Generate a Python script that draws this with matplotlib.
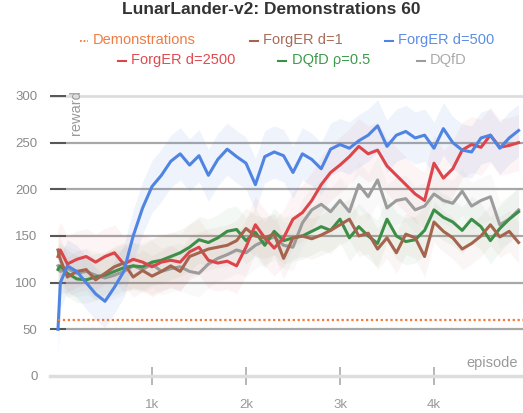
import matplotlib
matplotlib.use("Agg")
import matplotlib.pyplot as plt
from matplotlib.lines import Line2D
import numpy as np

plt.rcParams['font.family'] = ['Liberation Sans', 'DejaVu Sans']

episodes = [0, 25] + list(range(100, 5000, 100))

forger_d500 = [50, 100, 118, 112, 100, 88, 80, 95, 112, 150, 180, 203, 215, 230, 238, 226,
               236, 215, 232, 243, 235, 228, 205, 235, 240, 236, 218, 238, 232, 222, 243,
               248, 244, 252, 258, 268, 246, 258, 262, 255, 258, 244, 265, 250, 242, 240,
               255, 258, 244, 255, 263]
forger_d2500 = [128, 135, 120, 125, 128, 122, 128, 132, 120, 125, 122, 117, 122, 124, 122,
                133, 138, 124, 121, 123, 118, 138, 162, 148, 137, 148, 168, 175, 188, 205,
                218, 226, 235, 246, 238, 242, 225, 215, 205, 195, 188, 228, 212, 222, 242,
                248, 245, 258, 245, 247, 250]
dqfd = [118, 112, 115, 110, 112, 108, 105, 108, 112, 118, 114, 120, 112, 115, 117, 112,
        110, 120, 126, 130, 135, 132, 140, 145, 149, 140, 138, 164, 178, 184, 176, 188,
        176, 205, 192, 210, 180, 188, 190, 178, 182, 195, 188, 185, 198, 182, 188, 192,
        162, 168, 178]
dqfd_rho05 = [114, 118, 110, 104, 103, 106, 108, 112, 116, 118, 117, 122, 124, 128, 132,
              138, 146, 143, 148, 155, 157, 145, 154, 140, 155, 145, 148, 150, 155, 160,
              156, 168, 148, 160, 150, 142, 168, 150, 144, 146, 156, 178, 170, 165, 156,
              168, 160, 145, 158, 168, 176]
forger_d1 = [135, 125, 106, 112, 114, 103, 110, 117, 121, 106, 113, 107, 112, 118, 112,
             128, 132, 136, 138, 140, 145, 158, 150, 148, 152, 126, 148, 150, 147, 151,
             156, 162, 168, 150, 153, 136, 148, 132, 152, 148, 128, 165, 155, 148, 136,
             142, 150, 162, 149, 155, 143]
demonstrations = 60

labels = ["Demonstrations", "ForgER d=1", "ForgER d=500",
          "ForgER d=2500", "DQfD \u03c1=0.5", "DQfD"]
spreads = {"ForgER d=500": 28, "ForgER d=2500": 30, "DQfD": 25,
           "DQfD \u03c1=0.5": 25, "ForgER d=1": 22}

y_ticks = [0, 50, 100, 150, 200, 250, 300]
x_ticks = [1000, 2000, 3000, 4000]
x_tick_labels = ["1k", "2k", "3k", "4k"]

c_demo = "#f4793b"
c_brown = "#a5644e"
c_blue = "#4f84e2"
c_red = "#dc464b"
c_green = "#3d8f48"
c_gray = "#9c9c9c"

W, H = 523, 413
fig = plt.figure(figsize=(W / 100, H / 100), dpi=100)
left_px, right_px = 50, 523
bot_px, top_px = 376, 91.3
ax = fig.add_axes([left_px / W, (H - bot_px) / H, (right_px - left_px) / W,
                   (bot_px - top_px) / H])
ax.set_xlim(-85, 4947)
ax.set_ylim(0, 305)

for v in y_ticks[1:-1]:
    ax.axhline(v, color="#a8a8a8", lw=1.6, zorder=1)
ax.axhline(y_ticks[-1], color="#dddddd", lw=2.0, zorder=1)

ep = np.array(episodes)
series = [("DQfD", dqfd, c_gray), ("DQfD \u03c1=0.5", dqfd_rho05, c_green),
          ("ForgER d=2500", forger_d2500, c_red), ("ForgER d=1", forger_d1, c_brown),
          ("ForgER d=500", forger_d500, c_blue)]
for name, vals, col in series:
    v = np.array(vals, dtype=float)
    s = spreads[name]
    a = 0.09 if col == c_blue else 0.055
    ax.fill_between(ep, v - s, v + s, color=col, alpha=a, lw=0, zorder=2)
for name, vals, col in series:
    ax.plot(ep, vals, color=col, lw=2.2, zorder=4)

ax.plot([0, 4947], [demonstrations, demonstrations], color=c_demo, lw=1.6,
        linestyle=(0, (1, 1.2)), zorder=5)

for sp in ["top", "right", "left"]:
    ax.spines[sp].set_visible(False)
ax.spines["bottom"].set_color("#dddddd")
ax.spines["bottom"].set_linewidth(2.5)

ax.set_yticks(y_ticks)
ax.set_yticklabels([str(v) for v in y_ticks])
ax.tick_params(axis="y", direction="in", length=11.5, width=1.4, color="#555555",
               labelsize=9.5, labelcolor="#8a8a8a", pad=9)
ax.set_xticks(x_ticks)
ax.set_xticklabels(x_tick_labels)
ax.tick_params(axis="x", direction="inout", length=12.5, width=1.2, color="#aaaaaa",
               labelsize=9.5, labelcolor="#999999", pad=10)

ax.text(0.055, 1.005, "reward", transform=ax.transAxes, rotation=90, va="top",
        ha="center", fontsize=10.5, color="#9a9a9a")
ax.text(0.99, 0.047, "episode", transform=ax.transAxes, ha="right", va="center",
        fontsize=10.5, color="#9a9a9a")

fig.text(271 / W, 1 - 9 / H, "LunarLander-v2: Demonstrations 60", ha="center",
         va="center", fontsize=12.5, fontweight="bold", color="#333333")

# legend
leg = [("Demonstrations", c_demo, "#ef7c44", 80, 93, 41, True),
       ("ForgER d=1", c_brown, "#a86b58", 250, 263, 41, False),
       ("ForgER d=500", c_blue, "#5b8ee6", 385, 398, 41, False),
       ("ForgER d=2500", c_red, "#e04a4f", 118, 131, 61, False),
       ("DQfD \u03c1=0.5", c_green, "#3b9b4a", 278, 292, 61, False),
       ("DQfD", c_gray, "#aaaaaa", 417, 430, 61, False)]
for name, lc, tc, mx, tx, ty, dotted in leg:
    fig.add_artist(Line2D([mx / W, (mx + 8) / W], [1 - ty / H, 1 - ty / H], color=lc,
                          lw=1.3 if dotted else 1.5,
                          linestyle=(0, (1, 1)) if dotted else "-"))
    fig.text(tx / W, 1 - (ty - 1) / H, name, ha="left", va="center", fontsize=10.5,
             color=tc)

fig.savefig("out.png", dpi=100)
